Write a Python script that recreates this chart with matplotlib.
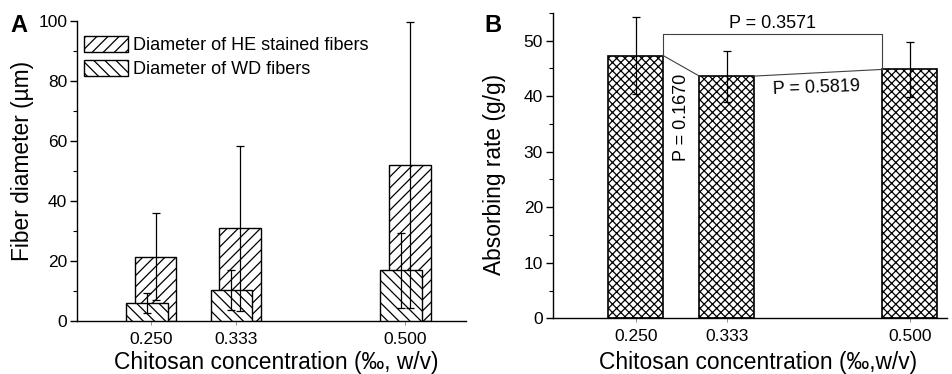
import numpy as np
import matplotlib
matplotlib.use('Agg')
import matplotlib.pyplot as plt
from matplotlib.ticker import MultipleLocator

plt.rcParams['font.family'] = ['Liberation Sans', 'DejaVu Sans']
plt.rcParams['hatch.linewidth'] = 0.9

# chitosan concentrations (per mille, w/v)
conc = np.array([0.250, 0.333, 0.500])
conc_labels = ['0.250', '0.333', '0.500']

# panel A: fiber diameter (um)
he_diam = np.array([21.5, 31.0, 52.0])
he_err = np.array([14.5, 27.5, 47.8])
wd_diam = np.array([6.1, 10.3, 17.0])
wd_err = np.array([3.3, 6.7, 12.5])

# panel B: absorbing rate (g/g)
absorb = np.array([47.3, 43.6, 44.8])
absorb_err = np.array([6.9, 4.6, 5.0])
p_pairs = ['P = 0.1670', 'P = 0.5819', 'P = 0.3571']
bracket_level = 51.1

fig = plt.figure(figsize=(9.52, 3.74), dpi=100)
axA = fig.add_axes([0.0809, 0.1417, 0.4086, 0.802])
axB = fig.add_axes([0.5806, 0.1489, 0.414, 0.817])

tick_fs = 12.5
label_fs = 16.4


def style_axis(ax):
    ax.spines['top'].set_visible(False)
    ax.spines['right'].set_visible(False)
    for s in ['left', 'bottom']:
        ax.spines[s].set_linewidth(1.0)
    ax.tick_params(axis='y', which='major', length=5, width=1, labelsize=tick_fs, pad=2)
    ax.tick_params(axis='y', which='minor', length=3, width=0.8)
    ax.tick_params(axis='x', which='major', length=3, width=0.6, labelsize=tick_fs, pad=5,
                   color='0.5')
    ax.set_xticks(conc)
    ax.set_xticklabels(conc_labels)


# ---- panel A
w = 0.041
off = 0.0042
axA.bar(conc + off, he_diam, width=w, color='white', edgecolor='black', hatch='///',
        linewidth=1.0, label='Diameter of HE stained fibers', zorder=2)
axA.bar(conc - off, wd_diam, width=w, color='white', edgecolor='black', hatch='\\\\\\',
        linewidth=1.0, label='Diameter of WD fibers', zorder=3)
axA.errorbar(conc + off, he_diam, yerr=he_err, fmt='none', ecolor='black', elinewidth=0.9,
             capsize=3, capthick=0.9, zorder=4)
axA.errorbar(conc - off, wd_diam, yerr=wd_err, fmt='none', ecolor='black', elinewidth=0.9,
             capsize=3, capthick=0.9, zorder=4)
axA.set_xlim(0.177, 0.5596)
axA.set_ylim(0, 100)
axA.yaxis.set_major_locator(MultipleLocator(20))
axA.yaxis.set_minor_locator(MultipleLocator(10))
style_axis(axA)
axA.set_ylabel('Fiber diameter (\u00b5m)', fontsize=label_fs)
axA.yaxis.set_label_coords(-0.141, 0.533)
axA.yaxis.label.set_va('center')
axA.set_xlabel('Chitosan concentration (\u2030, w/v)', fontsize=label_fs)
axA.xaxis.set_label_coords(0.512, -0.14)
axA.xaxis.label.set_va('center')
axA.legend(loc='upper left', bbox_to_anchor=(0.018, 0.95), frameon=False, fontsize=13,
           borderpad=0, borderaxespad=0, handlelength=2.45, handleheight=0.95,
           handletextpad=0.25, labelspacing=0.35)

# ---- panel B
wb = 0.05
bars = axB.bar(conc, absorb, width=wb, color='white', edgecolor='black', hatch='xxxx',
               linewidth=1.2, zorder=2)
axB.errorbar(conc, absorb, yerr=absorb_err, fmt='none', ecolor='black', elinewidth=0.9,
             capsize=3, capthick=0.9, zorder=4)
axB.set_xlim(0.1743, 0.5338)
axB.set_ylim(0, 55)
axB.yaxis.set_major_locator(MultipleLocator(10))
axB.yaxis.set_minor_locator(MultipleLocator(5))
style_axis(axB)
axB.set_ylabel('Absorbing rate (g/g)', fontsize=label_fs)
axB.yaxis.set_label_coords(-0.149, 0.472)
axB.yaxis.label.set_va('center')
axB.set_xlabel('Chitosan concentration (\u2030,w/v)', fontsize=label_fs)
axB.xaxis.set_label_coords(0.521, -0.146)
axB.xaxis.label.set_va('center')

# connector lines between bar tops
left_edge = conc - wb / 2
right_edge = conc + wb / 2
lc = '0.25'
lw = 0.8
axB.plot([right_edge[0], left_edge[1]], [absorb[0], absorb[1]], color=lc, lw=lw, zorder=3)
axB.plot([right_edge[1], left_edge[2]], [absorb[1], absorb[2]], color=lc, lw=lw, zorder=3)
axB.plot([right_edge[0], right_edge[0], left_edge[2], left_edge[2]],
         [absorb[0], bracket_level, bracket_level, absorb[2]], color=lc, lw=lw, zorder=3)
axB.text((right_edge[0] + left_edge[1]) / 2, 36.1, p_pairs[0], rotation=90, ha='center',
         va='center', fontsize=13)
axB.text(0.415, 41.5, p_pairs[1], rotation=2, ha='center', va='center', fontsize=13)
axB.text((right_edge[0] + left_edge[2]) / 2, 53.0, p_pairs[2], ha='center', va='center',
         fontsize=13)

fig.text(19 / 952, 1 - 25 / 374, 'A', fontsize=17, fontweight='bold', ha='center', va='center')
fig.text(493 / 952, 1 - 25 / 374, 'B', fontsize=17, fontweight='bold', ha='center', va='center')

fig.savefig('out.png', dpi=100)
